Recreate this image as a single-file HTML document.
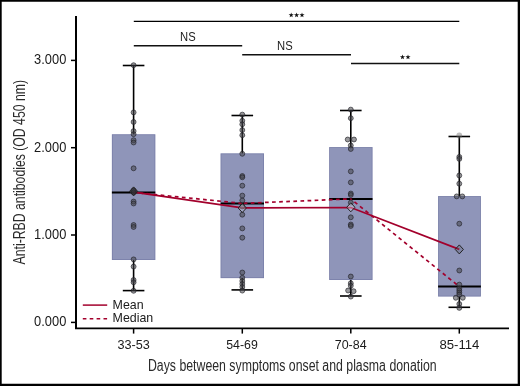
<!DOCTYPE html><html><head><meta charset="utf-8"><style>html,body{margin:0;padding:0;background:#fff;overflow:hidden;}svg{display:block;will-change:transform;}text{font-family:"Liberation Sans",sans-serif;}</style></head><body>
<svg width="520" height="386" viewBox="0 0 520 386">
<rect x="0" y="0" width="520" height="386" fill="#fff"/>
<rect x="111.9" y="134.3" width="43.4" height="125.7" fill="#8f95b9"/>
<rect x="112.3" y="134.7" width="42.6" height="124.9" fill="none" stroke="rgba(90,95,145,0.4)" stroke-width="0.8"/>
<rect x="220.6" y="153.4" width="43.4" height="124.7" fill="#8f95b9"/>
<rect x="221.0" y="153.8" width="42.6" height="123.9" fill="none" stroke="rgba(90,95,145,0.4)" stroke-width="0.8"/>
<rect x="329.2" y="147.1" width="43.3" height="132.9" fill="#8f95b9"/>
<rect x="329.6" y="147.5" width="42.5" height="132.1" fill="none" stroke="rgba(90,95,145,0.4)" stroke-width="0.8"/>
<rect x="438.1" y="196.1" width="42.8" height="100.4" fill="#8f95b9"/>
<rect x="438.5" y="196.5" width="42.0" height="99.6" fill="none" stroke="rgba(90,95,145,0.4)" stroke-width="0.8"/>
<line x1="133.6" y1="65.5" x2="133.6" y2="134.3" stroke="#000" stroke-width="1.6"/>
<line x1="133.6" y1="260.0" x2="133.6" y2="290.6" stroke="#000" stroke-width="1.6"/>
<line x1="122.8" y1="65.5" x2="144.4" y2="65.5" stroke="#000" stroke-width="1.6"/>
<line x1="122.8" y1="290.6" x2="144.4" y2="290.6" stroke="#000" stroke-width="1.6"/>
<line x1="242.3" y1="115.5" x2="242.3" y2="153.4" stroke="#000" stroke-width="1.6"/>
<line x1="242.3" y1="278.1" x2="242.3" y2="289.9" stroke="#000" stroke-width="1.6"/>
<line x1="231.5" y1="115.5" x2="253.1" y2="115.5" stroke="#000" stroke-width="1.6"/>
<line x1="231.5" y1="289.9" x2="253.1" y2="289.9" stroke="#000" stroke-width="1.6"/>
<line x1="350.8" y1="110.5" x2="350.8" y2="147.1" stroke="#000" stroke-width="1.6"/>
<line x1="350.8" y1="280.0" x2="350.8" y2="296.0" stroke="#000" stroke-width="1.6"/>
<line x1="340.0" y1="110.5" x2="361.6" y2="110.5" stroke="#000" stroke-width="1.6"/>
<line x1="340.0" y1="296.0" x2="361.6" y2="296.0" stroke="#000" stroke-width="1.6"/>
<line x1="459.3" y1="136.5" x2="459.3" y2="196.1" stroke="#000" stroke-width="1.6"/>
<line x1="459.3" y1="296.5" x2="459.3" y2="307.3" stroke="#000" stroke-width="1.6"/>
<line x1="448.5" y1="136.5" x2="470.1" y2="136.5" stroke="#000" stroke-width="1.6"/>
<line x1="448.5" y1="307.3" x2="470.1" y2="307.3" stroke="#000" stroke-width="1.6"/>
<line x1="111.9" y1="192.4" x2="155.3" y2="192.4" stroke="#000" stroke-width="2"/>
<line x1="220.6" y1="203.4" x2="264.0" y2="203.4" stroke="#000" stroke-width="2"/>
<line x1="329.2" y1="198.9" x2="372.5" y2="198.9" stroke="#000" stroke-width="2"/>
<line x1="438.1" y1="286.6" x2="480.9" y2="286.6" stroke="#000" stroke-width="2"/>
<polyline points="133.6,192.2 242.3,207.9 350.8,207.5 459.3,249.4" fill="none" stroke="#a3002c" stroke-width="1.7"/>
<line x1="133.6" y1="192.4" x2="242.3" y2="203.4" stroke="#a3002c" stroke-width="1.7" stroke-dasharray="3.7 3.4" stroke-dashoffset="1.2"/>
<line x1="242.3" y1="203.4" x2="350.8" y2="198.9" stroke="#a3002c" stroke-width="1.7" stroke-dasharray="3.7 3.4" stroke-dashoffset="-1.4"/>
<line x1="350.8" y1="198.9" x2="459.3" y2="286.6" stroke="#a3002c" stroke-width="1.7" stroke-dasharray="3.7 3.4" stroke-dashoffset="-4.7"/>
<circle cx="133.6" cy="65.2" r="2.45" fill="rgba(70,70,75,0.55)" stroke="rgba(35,35,40,0.75)" stroke-width="0.9"/>
<circle cx="133.6" cy="112.4" r="2.45" fill="rgba(70,70,75,0.55)" stroke="rgba(35,35,40,0.75)" stroke-width="0.9"/>
<circle cx="133.6" cy="122" r="2.45" fill="rgba(70,70,75,0.55)" stroke="rgba(35,35,40,0.75)" stroke-width="0.9"/>
<circle cx="133.6" cy="131.1" r="2.45" fill="rgba(70,70,75,0.55)" stroke="rgba(35,35,40,0.75)" stroke-width="0.9"/>
<circle cx="133.6" cy="134.2" r="2.45" fill="rgba(70,70,75,0.55)" stroke="rgba(35,35,40,0.75)" stroke-width="0.9"/>
<circle cx="133.6" cy="140.2" r="2.45" fill="rgba(70,70,75,0.55)" stroke="rgba(35,35,40,0.75)" stroke-width="0.9"/>
<circle cx="133.6" cy="142.5" r="2.45" fill="rgba(70,70,75,0.55)" stroke="rgba(35,35,40,0.75)" stroke-width="0.9"/>
<circle cx="133.6" cy="168.3" r="2.45" fill="rgba(70,70,75,0.55)" stroke="rgba(35,35,40,0.75)" stroke-width="0.9"/>
<circle cx="133.6" cy="190.5" r="2.45" fill="rgba(70,70,75,0.55)" stroke="rgba(35,35,40,0.75)" stroke-width="0.9"/>
<circle cx="133.6" cy="192.3" r="2.45" fill="rgba(70,70,75,0.55)" stroke="rgba(35,35,40,0.75)" stroke-width="0.9"/>
<circle cx="133.6" cy="201.5" r="2.45" fill="rgba(70,70,75,0.55)" stroke="rgba(35,35,40,0.75)" stroke-width="0.9"/>
<circle cx="133.6" cy="203.5" r="2.45" fill="rgba(70,70,75,0.55)" stroke="rgba(35,35,40,0.75)" stroke-width="0.9"/>
<circle cx="133.6" cy="225" r="2.45" fill="rgba(70,70,75,0.55)" stroke="rgba(35,35,40,0.75)" stroke-width="0.9"/>
<circle cx="133.6" cy="227" r="2.45" fill="rgba(70,70,75,0.55)" stroke="rgba(35,35,40,0.75)" stroke-width="0.9"/>
<circle cx="133.6" cy="259.4" r="2.45" fill="rgba(70,70,75,0.55)" stroke="rgba(35,35,40,0.75)" stroke-width="0.9"/>
<circle cx="133.6" cy="266.6" r="2.45" fill="rgba(70,70,75,0.55)" stroke="rgba(35,35,40,0.75)" stroke-width="0.9"/>
<circle cx="133.6" cy="280" r="2.45" fill="rgba(70,70,75,0.55)" stroke="rgba(35,35,40,0.75)" stroke-width="0.9"/>
<circle cx="133.6" cy="282.3" r="2.45" fill="rgba(70,70,75,0.55)" stroke="rgba(35,35,40,0.75)" stroke-width="0.9"/>
<circle cx="133.6" cy="290.8" r="2.45" fill="rgba(70,70,75,0.55)" stroke="rgba(35,35,40,0.75)" stroke-width="0.9"/>
<circle cx="242.3" cy="114.6" r="2.45" fill="rgba(70,70,75,0.55)" stroke="rgba(35,35,40,0.75)" stroke-width="0.9"/>
<circle cx="242.3" cy="120.8" r="2.45" fill="rgba(70,70,75,0.55)" stroke="rgba(35,35,40,0.75)" stroke-width="0.9"/>
<circle cx="242.3" cy="124.3" r="2.45" fill="rgba(70,70,75,0.55)" stroke="rgba(35,35,40,0.75)" stroke-width="0.9"/>
<circle cx="242.3" cy="130.1" r="2.45" fill="rgba(70,70,75,0.55)" stroke="rgba(35,35,40,0.75)" stroke-width="0.9"/>
<circle cx="242.3" cy="135.2" r="2.45" fill="rgba(70,70,75,0.55)" stroke="rgba(35,35,40,0.75)" stroke-width="0.9"/>
<circle cx="242.3" cy="153.8" r="2.45" fill="rgba(70,70,75,0.55)" stroke="rgba(35,35,40,0.75)" stroke-width="0.9"/>
<circle cx="242.3" cy="176" r="2.45" fill="rgba(70,70,75,0.55)" stroke="rgba(35,35,40,0.75)" stroke-width="0.9"/>
<circle cx="242.3" cy="177.3" r="2.45" fill="rgba(70,70,75,0.55)" stroke="rgba(35,35,40,0.75)" stroke-width="0.9"/>
<circle cx="242.3" cy="185.7" r="2.45" fill="rgba(70,70,75,0.55)" stroke="rgba(35,35,40,0.75)" stroke-width="0.9"/>
<circle cx="242.3" cy="195.6" r="2.45" fill="rgba(70,70,75,0.55)" stroke="rgba(35,35,40,0.75)" stroke-width="0.9"/>
<circle cx="242.3" cy="200.5" r="2.45" fill="rgba(70,70,75,0.55)" stroke="rgba(35,35,40,0.75)" stroke-width="0.9"/>
<circle cx="242.3" cy="206.4" r="2.45" fill="rgba(70,70,75,0.55)" stroke="rgba(35,35,40,0.75)" stroke-width="0.9"/>
<circle cx="242.3" cy="214.7" r="2.45" fill="rgba(70,70,75,0.55)" stroke="rgba(35,35,40,0.75)" stroke-width="0.9"/>
<circle cx="242.3" cy="228.4" r="2.45" fill="rgba(70,70,75,0.55)" stroke="rgba(35,35,40,0.75)" stroke-width="0.9"/>
<circle cx="242.3" cy="237.7" r="2.45" fill="rgba(70,70,75,0.55)" stroke="rgba(35,35,40,0.75)" stroke-width="0.9"/>
<circle cx="242.3" cy="272.5" r="2.45" fill="rgba(70,70,75,0.55)" stroke="rgba(35,35,40,0.75)" stroke-width="0.9"/>
<circle cx="242.3" cy="277.8" r="2.45" fill="rgba(70,70,75,0.55)" stroke="rgba(35,35,40,0.75)" stroke-width="0.9"/>
<circle cx="242.3" cy="281" r="2.45" fill="rgba(70,70,75,0.55)" stroke="rgba(35,35,40,0.75)" stroke-width="0.9"/>
<circle cx="242.3" cy="284" r="2.45" fill="rgba(70,70,75,0.55)" stroke="rgba(35,35,40,0.75)" stroke-width="0.9"/>
<circle cx="242.3" cy="287" r="2.45" fill="rgba(70,70,75,0.55)" stroke="rgba(35,35,40,0.75)" stroke-width="0.9"/>
<circle cx="242.3" cy="290.6" r="2.45" fill="rgba(70,70,75,0.55)" stroke="rgba(35,35,40,0.75)" stroke-width="0.9"/>
<circle cx="350.8" cy="109.6" r="2.45" fill="rgba(70,70,75,0.55)" stroke="rgba(35,35,40,0.75)" stroke-width="0.9"/>
<circle cx="350.8" cy="118.2" r="2.45" fill="rgba(70,70,75,0.55)" stroke="rgba(35,35,40,0.75)" stroke-width="0.9"/>
<circle cx="347.7" cy="139.5" r="2.45" fill="rgba(70,70,75,0.55)" stroke="rgba(35,35,40,0.75)" stroke-width="0.9"/>
<circle cx="354.0" cy="139.5" r="2.45" fill="rgba(70,70,75,0.55)" stroke="rgba(35,35,40,0.75)" stroke-width="0.9"/>
<circle cx="350.8" cy="145.5" r="2.45" fill="rgba(70,70,75,0.55)" stroke="rgba(35,35,40,0.75)" stroke-width="0.9"/>
<circle cx="350.8" cy="149" r="2.45" fill="rgba(70,70,75,0.55)" stroke="rgba(35,35,40,0.75)" stroke-width="0.9"/>
<circle cx="350.8" cy="171.4" r="2.45" fill="rgba(70,70,75,0.55)" stroke="rgba(35,35,40,0.75)" stroke-width="0.9"/>
<circle cx="350.8" cy="182.4" r="2.45" fill="rgba(70,70,75,0.55)" stroke="rgba(35,35,40,0.75)" stroke-width="0.9"/>
<circle cx="350.8" cy="193.5" r="2.45" fill="rgba(70,70,75,0.55)" stroke="rgba(35,35,40,0.75)" stroke-width="0.9"/>
<circle cx="350.8" cy="195" r="2.45" fill="rgba(70,70,75,0.55)" stroke="rgba(35,35,40,0.75)" stroke-width="0.9"/>
<circle cx="350.8" cy="202.6" r="2.45" fill="rgba(70,70,75,0.55)" stroke="rgba(35,35,40,0.75)" stroke-width="0.9"/>
<circle cx="350.8" cy="217.3" r="2.45" fill="rgba(70,70,75,0.55)" stroke="rgba(35,35,40,0.75)" stroke-width="0.9"/>
<circle cx="350.8" cy="224.5" r="2.45" fill="rgba(70,70,75,0.55)" stroke="rgba(35,35,40,0.75)" stroke-width="0.9"/>
<circle cx="350.8" cy="226" r="2.45" fill="rgba(70,70,75,0.55)" stroke="rgba(35,35,40,0.75)" stroke-width="0.9"/>
<circle cx="350.8" cy="276.5" r="2.45" fill="rgba(70,70,75,0.55)" stroke="rgba(35,35,40,0.75)" stroke-width="0.9"/>
<circle cx="350.8" cy="283.2" r="2.45" fill="rgba(70,70,75,0.55)" stroke="rgba(35,35,40,0.75)" stroke-width="0.9"/>
<circle cx="350.8" cy="285.8" r="2.45" fill="rgba(70,70,75,0.55)" stroke="rgba(35,35,40,0.75)" stroke-width="0.9"/>
<circle cx="348.1" cy="290.5" r="2.45" fill="rgba(70,70,75,0.55)" stroke="rgba(35,35,40,0.75)" stroke-width="0.9"/>
<circle cx="353.6" cy="291.2" r="2.45" fill="rgba(70,70,75,0.55)" stroke="rgba(35,35,40,0.75)" stroke-width="0.9"/>
<circle cx="350.8" cy="296.6" r="2.45" fill="rgba(70,70,75,0.55)" stroke="rgba(35,35,40,0.75)" stroke-width="0.9"/>
<circle cx="459.3" cy="135.5" r="2.9" fill="rgba(110,110,110,0.45)"/>
<circle cx="459.3" cy="156.9" r="2.45" fill="rgba(70,70,75,0.55)" stroke="rgba(35,35,40,0.75)" stroke-width="0.9"/>
<circle cx="459.3" cy="158.9" r="2.45" fill="rgba(70,70,75,0.55)" stroke="rgba(35,35,40,0.75)" stroke-width="0.9"/>
<circle cx="459.3" cy="175.5" r="2.45" fill="rgba(70,70,75,0.55)" stroke="rgba(35,35,40,0.75)" stroke-width="0.9"/>
<circle cx="459.3" cy="183.7" r="2.45" fill="rgba(70,70,75,0.55)" stroke="rgba(35,35,40,0.75)" stroke-width="0.9"/>
<circle cx="456.7" cy="196.4" r="2.45" fill="rgba(70,70,75,0.55)" stroke="rgba(35,35,40,0.75)" stroke-width="0.9"/>
<circle cx="462.3" cy="196.4" r="2.45" fill="rgba(70,70,75,0.55)" stroke="rgba(35,35,40,0.75)" stroke-width="0.9"/>
<circle cx="459.3" cy="223.7" r="2.45" fill="rgba(70,70,75,0.55)" stroke="rgba(35,35,40,0.75)" stroke-width="0.9"/>
<circle cx="459.3" cy="270.5" r="2.45" fill="rgba(70,70,75,0.55)" stroke="rgba(35,35,40,0.75)" stroke-width="0.9"/>
<circle cx="459.3" cy="284.6" r="2.45" fill="rgba(70,70,75,0.55)" stroke="rgba(35,35,40,0.75)" stroke-width="0.9"/>
<circle cx="459.3" cy="288.6" r="2.45" fill="rgba(70,70,75,0.55)" stroke="rgba(35,35,40,0.75)" stroke-width="0.9"/>
<circle cx="459.3" cy="290.5" r="2.45" fill="rgba(70,70,75,0.55)" stroke="rgba(35,35,40,0.75)" stroke-width="0.9"/>
<circle cx="459.3" cy="292.5" r="2.45" fill="rgba(70,70,75,0.55)" stroke="rgba(35,35,40,0.75)" stroke-width="0.9"/>
<circle cx="459.3" cy="294.5" r="2.45" fill="rgba(70,70,75,0.55)" stroke="rgba(35,35,40,0.75)" stroke-width="0.9"/>
<circle cx="455.8" cy="297.8" r="2.45" fill="rgba(70,70,75,0.55)" stroke="rgba(35,35,40,0.75)" stroke-width="0.9"/>
<circle cx="462.8" cy="297.8" r="2.45" fill="rgba(70,70,75,0.55)" stroke="rgba(35,35,40,0.75)" stroke-width="0.9"/>
<circle cx="459.3" cy="304" r="2.45" fill="rgba(70,70,75,0.55)" stroke="rgba(35,35,40,0.75)" stroke-width="0.9"/>
<circle cx="459.3" cy="307.9" r="2.45" fill="rgba(70,70,75,0.55)" stroke="rgba(35,35,40,0.75)" stroke-width="0.9"/>
<path d="M133.6 186.9 L137.7 191.4 L133.6 195.9 L129.5 191.4 Z" fill="rgba(40,40,45,0.6)" stroke="#222" stroke-width="1"/>
<path d="M242.3 203.5 L246.4 208.0 L242.3 212.5 L238.20000000000002 208.0 Z" fill="rgba(215,215,230,0.3)" stroke="#222" stroke-width="1"/>
<path d="M350.8 202.8 L354.90000000000003 207.3 L350.8 211.8 L346.7 207.3 Z" fill="rgba(225,225,240,0.4)" stroke="#222" stroke-width="1"/>
<path d="M459.3 244.9 L463.40000000000003 249.4 L459.3 253.9 L455.2 249.4 Z" fill="rgba(90,90,105,0.3)" stroke="#222" stroke-width="1"/>
<line x1="76" y1="16" x2="76" y2="329" stroke="#000" stroke-width="2"/>
<line x1="75" y1="328.3" x2="509" y2="328.3" stroke="#000" stroke-width="1.8"/>
<line x1="71" y1="60.4" x2="76" y2="60.4" stroke="#000" stroke-width="1.5"/>
<text x="66.3" y="64.4" font-size="14" text-anchor="end" textLength="32.2" lengthAdjust="spacingAndGlyphs" fill="#1a1a1a">3.000</text>
<line x1="71" y1="147.7" x2="76" y2="147.7" stroke="#000" stroke-width="1.5"/>
<text x="66.3" y="151.7" font-size="14" text-anchor="end" textLength="32.2" lengthAdjust="spacingAndGlyphs" fill="#1a1a1a">2.000</text>
<line x1="71" y1="235.0" x2="76" y2="235.0" stroke="#000" stroke-width="1.5"/>
<text x="66.3" y="239.0" font-size="14" text-anchor="end" textLength="32.2" lengthAdjust="spacingAndGlyphs" fill="#1a1a1a">1.000</text>
<line x1="71" y1="322.4" x2="76" y2="322.4" stroke="#000" stroke-width="1.5"/>
<text x="66.3" y="326.4" font-size="14" text-anchor="end" textLength="32.2" lengthAdjust="spacingAndGlyphs" fill="#1a1a1a">0.000</text>
<line x1="133.6" y1="328.5" x2="133.6" y2="333.6" stroke="#000" stroke-width="1.5"/>
<text x="133.7" y="348.8" font-size="13.6" text-anchor="middle" textLength="32.4" lengthAdjust="spacingAndGlyphs" fill="#1a1a1a">33-53</text>
<line x1="242.3" y1="328.5" x2="242.3" y2="333.6" stroke="#000" stroke-width="1.5"/>
<text x="242.05" y="348.8" font-size="13.6" text-anchor="middle" textLength="31.6" lengthAdjust="spacingAndGlyphs" fill="#1a1a1a">54-69</text>
<line x1="350.8" y1="328.5" x2="350.8" y2="333.6" stroke="#000" stroke-width="1.5"/>
<text x="350.7" y="348.8" font-size="13.6" text-anchor="middle" textLength="31.9" lengthAdjust="spacingAndGlyphs" fill="#1a1a1a">70-84</text>
<line x1="459.3" y1="328.5" x2="459.3" y2="333.6" stroke="#000" stroke-width="1.5"/>
<text x="459.4" y="348.8" font-size="13.6" text-anchor="middle" textLength="40.0" lengthAdjust="spacingAndGlyphs" fill="#1a1a1a">85-114</text>
<text x="292.3" y="370.8" font-size="16" text-anchor="middle" textLength="288.6" lengthAdjust="spacingAndGlyphs" fill="#2a2a2a">Days between symptoms onset and plasma donation</text>
<text transform="translate(24.6,172.2) rotate(-90)" x="0" y="0" font-size="16" text-anchor="middle" textLength="184.4" lengthAdjust="spacingAndGlyphs" fill="#2a2a2a">Anti-RBD antibodies (OD 450 nm)</text>
<line x1="133.8" y1="21.4" x2="459.3" y2="21.4" stroke="#000" stroke-width="1.4"/>
<line x1="133.8" y1="45.7" x2="242.2" y2="45.7" stroke="#111" stroke-width="1.5"/>
<line x1="242.2" y1="54.7" x2="351" y2="54.7" stroke="#111" stroke-width="1.5"/>
<line x1="351" y1="63.4" x2="459.3" y2="63.4" stroke="#111" stroke-width="1.5"/>
<text x="187.9" y="41.3" font-size="13" text-anchor="middle" textLength="15.6" lengthAdjust="spacingAndGlyphs" fill="#1a1a1a">NS</text>
<text x="284.9" y="50.2" font-size="13" text-anchor="middle" textLength="15.6" lengthAdjust="spacingAndGlyphs" fill="#1a1a1a">NS</text>
<polygon points="291.20,12.40 291.82,14.25 293.77,14.27 292.20,15.43 292.79,17.28 291.20,16.15 289.61,17.28 290.20,15.43 288.63,14.27 290.58,14.25" fill="#111"/>
<polygon points="296.60,12.40 297.22,14.25 299.17,14.27 297.60,15.43 298.19,17.28 296.60,16.15 295.01,17.28 295.60,15.43 294.03,14.27 295.98,14.25" fill="#111"/>
<polygon points="302.00,12.40 302.62,14.25 304.57,14.27 303.00,15.43 303.59,17.28 302.00,16.15 300.41,17.28 301.00,15.43 299.43,14.27 301.38,14.25" fill="#111"/>
<polygon points="402.50,54.40 403.12,56.25 405.07,56.27 403.50,57.43 404.09,59.28 402.50,58.15 400.91,59.28 401.50,57.43 399.93,56.27 401.88,56.25" fill="#111"/>
<polygon points="408.00,54.40 408.62,56.25 410.57,56.27 409.00,57.43 409.59,59.28 408.00,58.15 406.41,59.28 407.00,57.43 405.43,56.27 407.38,56.25" fill="#111"/>
<line x1="82.8" y1="305.1" x2="107.2" y2="305.1" stroke="#a3002c" stroke-width="1.5"/>
<line x1="82.8" y1="318.7" x2="107.4" y2="318.7" stroke="#a3002c" stroke-width="1.5" stroke-dasharray="3.6 3.3"/>
<text x="112.6" y="308.9" font-size="12.4" fill="#1a1a1a">Mean</text>
<text x="112.6" y="322.1" font-size="12.4" fill="#1a1a1a">Median</text>
<path d="M0 0H520V386H0Z M1.7 1.7V383.7H517.7V1.7Z" fill="#000" fill-rule="evenodd"/>
</svg></body></html>
